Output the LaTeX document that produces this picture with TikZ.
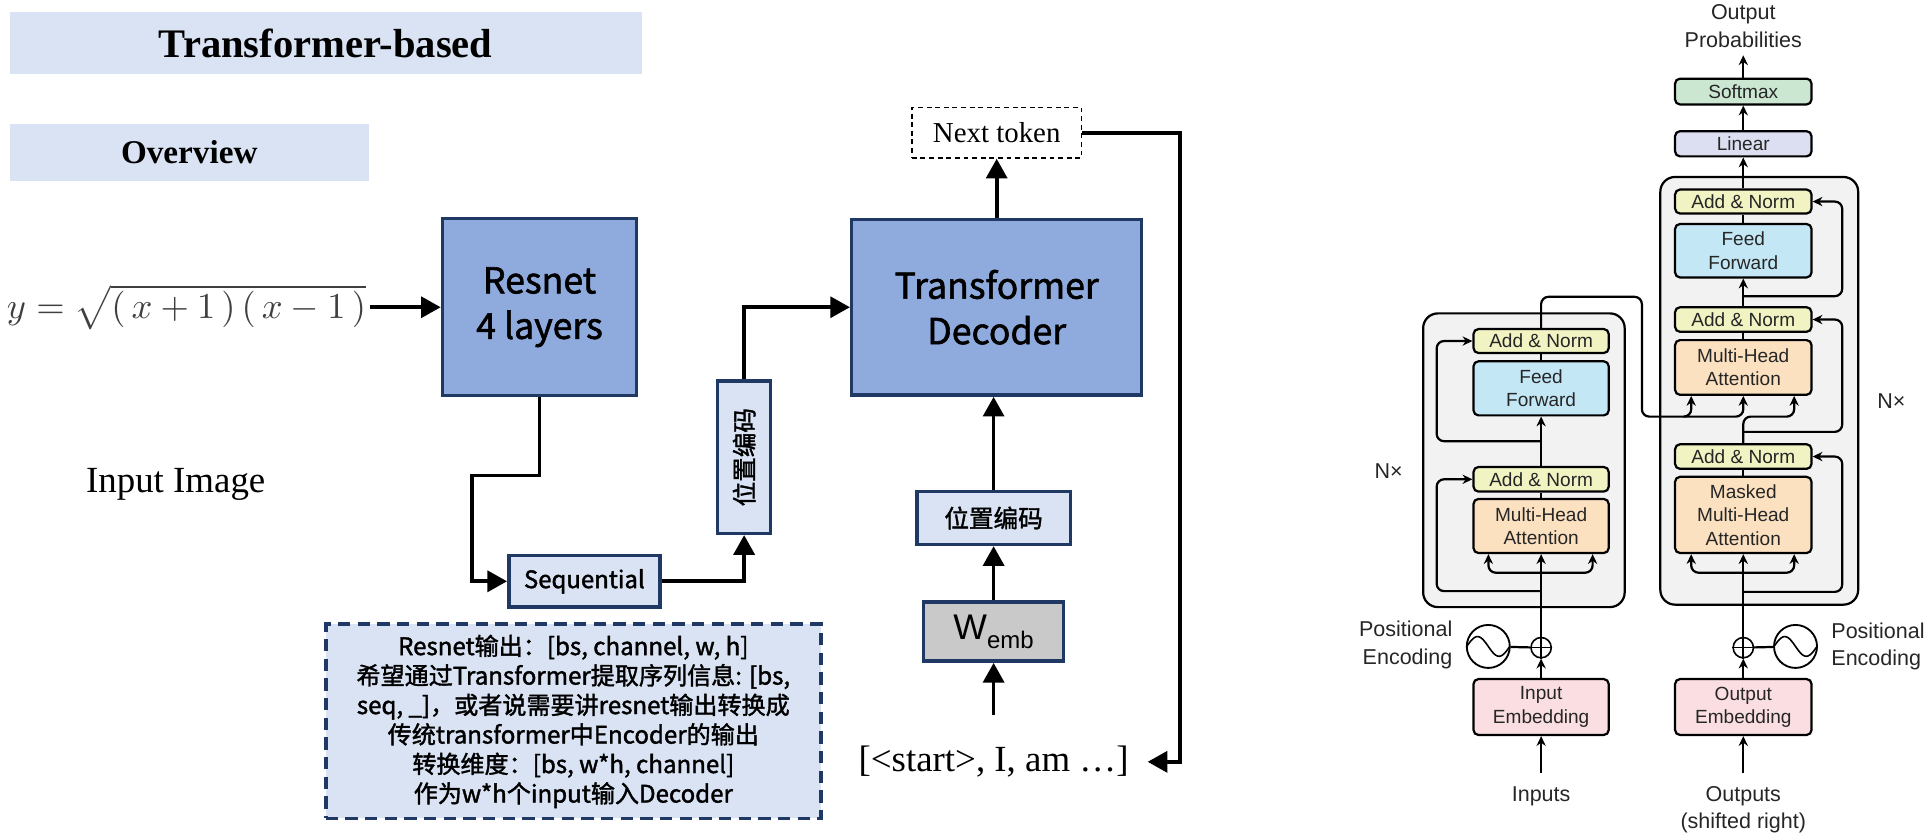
\documentclass[tikz,border=0pt]{standalone}
\usepackage{fontspec}
\usepackage{graphicx}
\setmainfont{Liberation Serif}
\setsansfont{Liberation Sans}
\newfontfamily\cjk[FakeBold=1.6]{Noto Sans CJK SC}
\usetikzlibrary{arrows.meta,positioning}

\newcommand{\setfs}[2]{\fontsize{#1pt}{#2pt}\selectfont}

\definecolor{navy}{HTML}{1F3864}
\definecolor{paleblue}{HTML}{DAE3F3}
\definecolor{midblue}{HTML}{8FAADC}
\definecolor{embgray}{HTML}{C9C9C9}
\definecolor{stackgray}{HTML}{F2F2F2}
\definecolor{anyellow}{HTML}{F1F4C2}
\definecolor{ffblue}{HTML}{C4E7F6}
\definecolor{attorange}{HTML}{FCE1C1}
\definecolor{embpink}{HTML}{FADEE1}
\definecolor{linlav}{HTML}{DCDEF1}
\definecolor{smgreen}{HTML}{CBE7D1}
\definecolor{txtgray}{HTML}{262626}

\tikzset{
  headbox/.style={fill=paleblue, inner sep=0pt},
  blk/.style={draw=navy, line width=2.8pt, align=center, inner sep=0pt, font=\cjk\setfs{29}{37}},
  bigblk/.style={blk, fill=midblue},
  lightblk/.style={blk, fill=paleblue, font=\cjk\setfs{19.5}{22}},
  flow/.style={line width=3pt, -{Triangle[width=17pt,length=16pt]}},
  tfstack/.style={draw, line width=1.8pt, fill=stackgray, rounded corners=12pt, inner sep=0pt},
  tfbox/.style={draw, line width=1.8pt, rounded corners=4pt, inner sep=0pt, align=center,
    minimum width=110pt, text=txtgray, font=\sffamily\setfs{15.5}{19}},
  tfnorm/.style={tfbox, fill=anyellow, minimum height=20pt},
  tfffwd/.style={tfbox, fill=ffblue, minimum height=44pt},
  tfattn/.style={tfbox, fill=attorange, minimum height=44pt},
  tfemb/.style={tfbox, fill=embpink, minimum height=45.5pt},
  tflbl/.style={text=txtgray, font=\sffamily\setfs{17.5}{22.5}, inner sep=0pt, align=center},
  tfarr/.style={line width=1.8pt, -{Stealth[length=8pt,width=7.5pt]}},
  tfline/.style={line width=1.8pt},
  tfres/.style={tfarr, rounded corners=6pt},
  sumnode/.style={circle, draw, line width=1.3pt, minimum size=16.5pt, inner sep=0pt, fill=white},
  wavenode/.style={circle, draw, line width=1.5pt, minimum size=35pt, inner sep=0pt},
}

\begin{document}
\begin{tikzpicture}[x=1pt,y=-1pt]
  \useasboundingbox (0,0) rectangle (1568,682);

  % headings
  \node[headbox, minimum width=514pt, minimum height=50pt, font=\bfseries\setfs{33}{36}] (title) at (265,35) {Transformer-based};
  \node[headbox, minimum width=292pt, minimum height=46pt, font=\bfseries\setfs{27}{30}] (overview) at (154,124) {Overview};

  % overview pipeline
  \node[anchor=east, inner sep=0pt, text=black!75] (formula) at (298,250) {\scalebox{2.97}{$y = \sqrt{(\,x+1\,)\,(\,x-1\,)}$}};
  \node[anchor=base, font=\setfs{30}{36}] (inimg) at (143,401) {Input Image};
  \node[bigblk, minimum width=158pt, minimum height=144pt] (resnet) at (439,250) {Resnet\\4 layers};
  \node[lightblk, minimum width=123pt, minimum height=42pt] (seqnode) at (475.5,473) {Sequential};
  \node[lightblk, minimum width=43pt, minimum height=124pt, font=\cjk\setfs{20}{22}] (pevert) at (605.5,372) {\rotatebox{90}{位置编码}};
  \node[bigblk, minimum width=236pt, minimum height=143pt] (decoder) at (811,250) {Transformer\\Decoder};
  \node[draw, line width=1.3pt, dash pattern=on 4pt off 3pt, minimum width=138pt, minimum height=41pt, inner sep=0pt, font=\setfs{23.5}{26}] (nexttok) at (811,108) {Next token};
  \node[lightblk, minimum width=125pt, minimum height=43pt, font=\cjk\setfs{20}{22}] (pehoriz) at (808.5,421.5) {位置编码};
  \node[blk, fill=embgray, minimum width=114pt, minimum height=48pt, font=\sffamily\setfs{29}{30}] (wemb) at (808.5,514) {W\raisebox{-7pt}{\setfs{19.5}{20}emb}};
  \node[anchor=base, font=\setfs{30}{36}] (tokens) at (808.5,628) {[<start>, I, am …]};
  \coordinate (tokstop) at (808.5,582);
  \node[lightblk, dash pattern=on 10pt off 6pt, line width=3pt, minimum width=403pt, minimum height=158pt, font=\cjk\setfs{19.6}{24}] (note) at (466.5,587)
    {Resnet输出：[bs, channel, w, h]\\希望通过Transformer提取序列信息: [bs,\\seq, \_]，或者说需要讲resnet输出转换成\\传统transformer中Encoder的输出\\转换维度：[bs, w*h, channel]\\作为w*h个input输入Decoder};

  \draw[flow] ([xshift=3pt]formula.east) -- (resnet);
  \draw[flow] (resnet.south) |- (384,387) |- (seqnode.west);
  \draw[flow] (seqnode.east) -| (pevert.south);
  \draw[flow] (pevert.north) |- (decoder.west);
  \draw[flow] (decoder.north) -- (nexttok.south);
  \draw[flow] (nexttok.east) -- (960,108) |- ([xshift=12pt]tokens.east);
  \draw[flow] (tokstop) -- (wemb.south);
  \draw[flow] (wemb.north) -- (pehoriz.south);
  \draw[flow] (pehoriz.north) -- (pehoriz.north |- decoder.south);

  % transformer: stacks
  \node[tfstack, minimum width=164pt, minimum height=239pt] (eStack) at (1240,374.5) {};
  \node[tfstack, minimum width=161pt, minimum height=348pt] (dStack) at (1431.5,318) {};

  % encoder
  \node[tfnorm, minimum height=19.5pt] (eAN2) at (1254,277.5) {Add \& Norm};
  \node[tfffwd] (eFF) at (1254,316) {Feed\\Forward};
  \node[tfnorm] (eAN1) at (1254,390) {Add \& Norm};
  \node[tfattn] (eMHA) at (1254,428) {Multi-Head\\Attention};
  \node[tfemb] (eEmb) at (1254,575.3) {Input\\Embedding};
  \node[sumnode] (eplus) at (1254,527) {};
  \node[wavenode] (esin) at (1211,526) {};

  % decoder
  \node[tfbox, fill=smgreen, minimum width=111pt, minimum height=21pt] (softmax) at (1418.5,74.5) {Softmax};
  \node[tfbox, fill=linlav, minimum width=111pt, minimum height=20.5pt] (linear) at (1418.5,117) {Linear};
  \node[tfnorm, minimum width=111pt, minimum height=19.5pt] (dAN3) at (1418.5,164) {Add \& Norm};
  \node[tfffwd, minimum width=111pt, minimum height=43.5pt] (dFF) at (1418.5,204) {Feed\\Forward};
  \node[tfnorm, minimum width=111pt] (dAN2) at (1418.5,260) {Add \& Norm};
  \node[tfattn, minimum width=111pt, minimum height=44.5pt] (dMHA) at (1418.5,299) {Multi-Head\\Attention};
  \node[tfnorm, minimum width=111pt] (dAN1) at (1418.5,371.5) {Add \& Norm};
  \node[tfattn, minimum width=111pt, minimum height=62pt] (dMMHA) at (1418.5,419) {Masked\\Multi-Head\\Attention};
  \node[tfemb, minimum width=111pt] (dEmb) at (1418.5,575.3) {Output\\Embedding};
  \node[sumnode] (dplus) at (1418.5,527) {};
  \node[wavenode] (dsin) at (1461,526) {};

  \foreach \p in {eplus,dplus}
    \draw[line width=1.3pt] (\p.north) -- (\p.south) (\p.west) -- (\p.east);
  \foreach \w in {esin,dsin}
    \draw[line width=1.3pt, shift={(\w.center)}] plot[domain=-1:1, samples=40, smooth] ({17.5*\x},{8*sin(180*\x)});

  % labels
  \node[tflbl] (outprob) at (1418.5,21) {Output\\Probabilities};
  \node[tflbl] (encN) at (1130,383) {N×};
  \node[tflbl] (decN) at (1539,326) {N×};
  \node[tflbl, anchor=east, align=right] (encPE) at (1182,525) {Positional\\Encoding};
  \node[tflbl, anchor=west, align=left] (decPE) at (1490,526) {Positional\\Encoding};
  \node[tflbl] (inputs) at (1254,648) {Inputs};
  \node[tflbl] (outputs) at (1418.5,659) {Outputs\\(shifted right)};

  \coordinate (encIn) at (1254,629);
  \coordinate (decIn) at (1418.5,629);
  \coordinate (probIn) at (1418.5,45);
  \coordinate (eFork) at (1254,466);
  \coordinate (eRes1) at (1254,481);
  \coordinate (eRes2) at (1254,359);
  \coordinate (kvFork) at (1370,339);
  \coordinate (dFork) at (1418.5,466);
  \coordinate (dRes1) at (1418.5,481.6);
  \coordinate (dRes2) at (1418.5,351.4);
  \coordinate (dRes3) at (1418.5,241);

  % encoder wiring
  \draw[tfarr] (encIn) -- (eEmb);
  \draw[tfarr] (eEmb) -- (eplus);
  \draw[tfline] (esin) -- (eplus);
  \draw[tfarr] (eplus) -- (eMHA);
  \draw[tfres] (eFork) -| ([xshift=13pt]eMHA.south west);
  \draw[tfres] (eFork) -| ([xshift=-14pt]eMHA.south east);
  \draw[tfres] (eRes1) -- (1169,481) |- (eAN1.west);
  \draw[tfline] (eMHA) -- (eAN1);
  \draw[tfarr] (eAN1) -- (eFF);
  \draw[tfres] (eRes2) -- (1169,359) |- (eAN2.west);
  \draw[tfline] (eFF) -- (eAN2);
  \draw[tfres] (eAN2.north) |- (1336,241.5) -- (1336,339) -| ([xshift=14pt]dMHA.south west);
  \draw[tfres] (kvFork) -| (dMHA.south);

  % decoder wiring
  \draw[tfarr] (decIn) -- (dEmb);
  \draw[tfarr] (dEmb) -- (dplus);
  \draw[tfline] (dsin) -- (dplus);
  \draw[tfarr] (dplus) -- (dMMHA);
  \draw[tfres] (dFork) -| ([xshift=14pt]dMMHA.south west);
  \draw[tfres] (dFork) -| ([xshift=-15pt]dMMHA.south east);
  \draw[tfres] (dRes1) -- (1499,481.6) |- (dAN1.east);
  \draw[tfline] (dMMHA) -- (dAN1);
  \draw[tfres] (dAN1.north) -- (1418.5,339) -| ([xshift=-15pt]dMHA.south east);
  \draw[tfres] (dRes2) -- (1499,351.4) |- (dAN2.east);
  \draw[tfline] (dMHA) -- (dAN2);
  \draw[tfarr] (dAN2) -- (dFF);
  \draw[tfres] (dRes3) -- (1499,241) |- (dAN3.east);
  \draw[tfline] (dFF) -- (dAN3);
  \draw[tfarr] (dAN3) -- (linear);
  \draw[tfarr] (linear) -- (softmax);
  \draw[tfarr] (softmax) -- (probIn);
\end{tikzpicture}
\end{document}
